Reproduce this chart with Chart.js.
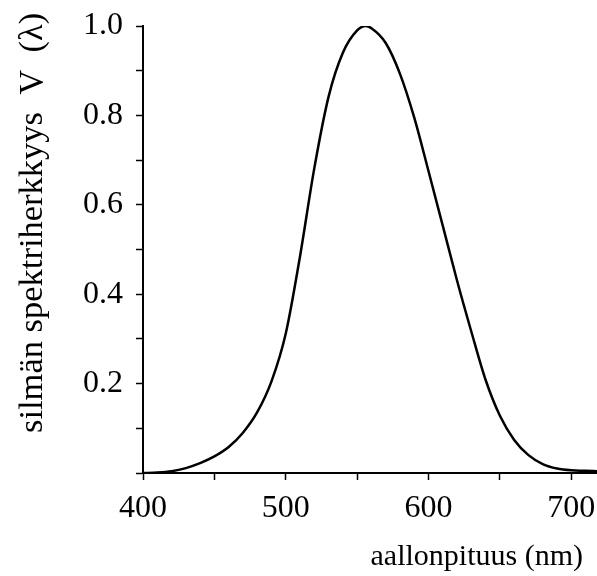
<!DOCTYPE html>
<html>
<head>
<meta charset="utf-8">
<script src="https://cdn.jsdelivr.net/npm/chart.js@4/dist/chart.umd.min.js"></script>
<style>
  html, body { margin: 0; padding: 0; background: #fff; }
  #wrap { width: 597px; height: 576px; }
</style>
</head>
<body>
<div id="wrap"><canvas id="c" width="597" height="576"></canvas></div>
<script>
// Data
const wavelengths = [400, 410, 420, 430, 440, 450, 460, 470, 480, 490, 500, 510, 520, 530, 540, 550, 556, 560, 570, 580, 590, 600, 610, 620, 630, 640, 650, 660, 670, 680, 690, 700, 710, 718];
const sensitivity = [0.000, 0.001, 0.004, 0.011, 0.022, 0.037, 0.058, 0.090, 0.136, 0.205, 0.312, 0.485, 0.682, 0.842, 0.940, 0.990, 1.000, 0.995, 0.962, 0.893, 0.795, 0.675, 0.553, 0.430, 0.316, 0.208, 0.128, 0.074, 0.040, 0.020, 0.010, 0.006, 0.005, 0.004];
const xTickLabels = [400, 500, 600, 700];
const yTickLabels = [0.2, 0.4, 0.6, 0.8, 1.0];
const xTitle = 'aallonpituus (nm)';
const yTitle = 'silmän spektriherkkyys  V  (λ)';

const points = wavelengths.map((w, i) => ({ x: w, y: sensitivity[i] }));

const titlePlugin = {
  id: 'axisTitles',
  afterDraw(chart) {
    const ctx = chart.ctx;
    ctx.save();
    ctx.fillStyle = '#000';
    ctx.font = '34.5px "Liberation Serif"';
    ctx.textBaseline = 'alphabetic';
    ctx.textAlign = 'left';
    ctx.translate(42, 433);
    ctx.rotate(-Math.PI / 2);
    ctx.fillText(yTitle, 0, 0);
    ctx.restore();
    ctx.save();
    ctx.fillStyle = '#000';
    ctx.font = '30px "Liberation Serif"';
    ctx.textBaseline = 'alphabetic';
    ctx.textAlign = 'right';
    ctx.fillText(xTitle, 583, 565);
    ctx.restore();
  }
};

new Chart(document.getElementById('c'), {
  type: 'line',
  data: {
    datasets: [{
      data: points,
      borderColor: '#000',
      borderWidth: 2.5,
      pointRadius: 0,
      fill: false,
      cubicInterpolationMode: 'monotone'
    }]
  },
  options: {
    responsive: false,
    animation: false,
    devicePixelRatio: 1,
    layout: { padding: { top: 26, right: 0, left: 0, bottom: 0 } },
    plugins: { legend: { display: false }, tooltip: { enabled: false } },
    scales: {
      x: {
        type: 'linear',
        min: 400,
        max: 718,
        afterFit(s) { s.height = 103; s.paddingRight = 0; s.paddingLeft = 0; },
        border: { display: true, color: '#000', width: 2 },
        grid: { drawOnChartArea: false, drawTicks: true, tickLength: 7, tickColor: '#000', tickWidth: 1.5 },
        ticks: {
          stepSize: 50,
          includeBounds: false,
          autoSkip: false,
          maxRotation: 0,
          padding: 9,
          color: '#000',
          font: { family: '"Liberation Serif"', size: 32 },
          callback: (v) => xTickLabels.includes(v) ? String(v) : ''
        }
      },
      y: {
        min: 0,
        max: 1,
        afterFit(s) { s.width = 143; s.paddingTop = 0; s.paddingBottom = 0; },
        border: { display: true, color: '#000', width: 2 },
        grid: { drawOnChartArea: false, drawTicks: true, tickLength: 7, tickColor: '#000', tickWidth: 1.5 },
        ticks: {
          stepSize: 0.1,
          autoSkip: false,
          padding: 13,
          color: '#000',
          font: { family: '"Liberation Serif"', size: 32 },
          callback: (v) => {
            const r = Math.round(v * 10) / 10;
            return yTickLabels.some(t => Math.abs(t - r) < 1e-9) ? r.toFixed(1) : '';
          }
        }
      }
    }
  },
  plugins: [titlePlugin]
});
</script>
</body>
</html>
